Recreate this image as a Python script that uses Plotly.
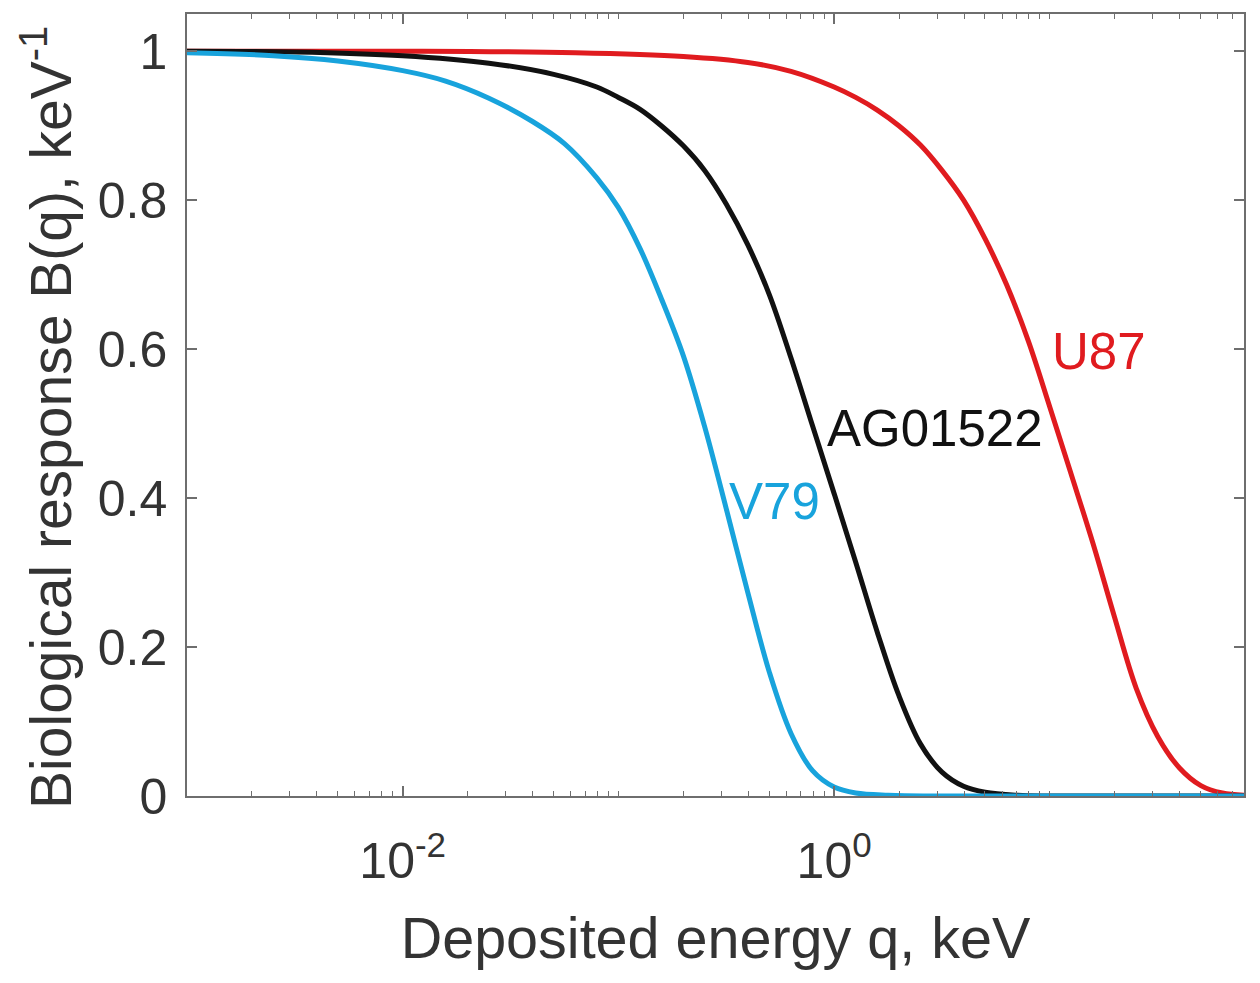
import numpy as np
import plotly.graph_objects as go

# Deposited energy q (keV) and biological response B(q)
q_v79 = [0.001, 0.00251, 0.00501, 0.01, 0.0158, 0.0251, 0.0398, 0.0562, 0.0794, 0.1,
         0.126, 0.158, 0.2, 0.251, 0.316, 0.398, 0.501, 0.631, 0.794, 1.0, 1.259, 1.778,
         3.16, 10.0, 79.43]
b_v79 = [0.998, 0.994, 0.987, 0.974, 0.960, 0.937, 0.906, 0.876, 0.830, 0.790,
         0.735, 0.668, 0.591, 0.496, 0.386, 0.273, 0.166, 0.084, 0.034, 0.012, 0.004, 0.001,
         0.0, 0.0, 0.0]

q_ag = [0.001, 0.00316, 0.01, 0.0251, 0.0501, 0.0794, 0.1, 0.126, 0.158, 0.2,
        0.251, 0.316, 0.398, 0.501, 0.631, 0.794, 1.0, 1.259, 1.585, 1.995,
        2.512, 3.162, 3.981, 5.012, 7.079, 10.0, 79.43]
b_ag = [1.0, 0.999, 0.994, 0.984, 0.969, 0.952, 0.938, 0.922, 0.900, 0.873,
        0.840, 0.795, 0.740, 0.673, 0.588, 0.497, 0.406, 0.314, 0.220, 0.135,
        0.070, 0.032, 0.013, 0.005, 0.001, 0.0, 0.0]

q_u87 = [0.001, 0.01, 0.0631, 0.2, 0.398, 0.631, 1.0, 1.259, 1.585, 1.995,
         2.512, 3.162, 3.981, 5.012, 6.310, 7.943, 10.0, 12.59, 15.85, 19.95,
         25.12, 31.62, 39.81, 50.12, 63.10, 79.43]
b_u87 = [1.0, 1.0, 0.998, 0.993, 0.985, 0.973, 0.952, 0.938, 0.921, 0.900,
         0.874, 0.840, 0.800, 0.748, 0.686, 0.611, 0.522, 0.431, 0.339, 0.240,
         0.145, 0.080, 0.038, 0.014, 0.004, 0.001]

x_tick_vals = [0.01, 1.0]
x_tick_text = ["10<sup>-2</sup>", "10<sup>0</sup>"]
x_minor_vals = [m * 10.0 ** e for e in range(-3, 2) for m in range(1, 10) if not (m == 1 and e in (-2, 0))]
y_tick_vals = [0, 0.2, 0.4, 0.6, 0.8, 1.0]
y_tick_text = ["0", "0.2", "0.4", "0.6", "0.8", "1"]

RED = "#e01b1f"
CYAN = "#18a3dc"
BLACK = "#111111"
FONT = "Liberation Sans, Arial, Helvetica, sans-serif"
AXIS_GREY = "#6e6e6e"
TEXT_GREY = "#333333"

fig = go.Figure()
for q, b, c, name in [(q_u87, b_u87, RED, "U87"),
                      (q_ag, b_ag, BLACK, "AG01522"),
                      (q_v79, b_v79, CYAN, "V79")]:
    fig.add_trace(go.Scatter(x=q, y=b, mode="lines", name=name,
                             line=dict(color=c, width=5, shape="spline", smoothing=1.0),
                             showlegend=False))

labels = [("V79", 0.527, 0.395, CYAN), ("AG01522", 2.95, 0.494, BLACK), ("U87", 16.9, 0.597, RED)]
for txt, qx, by, c in labels:
    fig.add_annotation(x=np.log10(qx), y=by, xref="x", yref="y", text=txt, showarrow=False,
                       font=dict(family=FONT, size=51, color=c), xanchor="center", yanchor="middle")

# y-axis title placed as a rotated annotation
fig.add_annotation(x=-0.1325, y=0.4847, xref="paper", yref="paper", textangle=-90,
                   text="Biological response B(q), keV<sup>-1</sup>", showarrow=False,
                   font=dict(family=FONT, size=57, color=TEXT_GREY), xanchor="center", yanchor="middle")

fig.update_layout(
    width=1260, height=983,
    margin=dict(l=187, r=16, t=14, b=187),
    paper_bgcolor="white", plot_bgcolor="white",
    font=dict(family=FONT, color=TEXT_GREY),
)
fig.update_xaxes(
    type="log", range=[-3, 1.9],
    tickmode="array", tickvals=x_tick_vals, ticktext=x_tick_text,
    ticks="inside", ticklen=10, tickwidth=1.5, tickcolor=AXIS_GREY,
    minor=dict(tickmode="array", tickvals=x_minor_vals, ticks="inside", ticklen=5,
               tickwidth=1.2, tickcolor=AXIS_GREY, showgrid=False),
    showline=True, linecolor=AXIS_GREY, linewidth=1.5, mirror="ticks",
    showgrid=False, zeroline=False,
    tickfont=dict(size=50, color=TEXT_GREY, family=FONT),
    ticklabelstandoff=20,
    title=dict(text="Deposited energy q, keV", font=dict(size=57.5, color=TEXT_GREY, family=FONT), standoff=30),
)
fig.update_yaxes(
    range=[0, 1.05],
    tickmode="array", tickvals=y_tick_vals, ticktext=y_tick_text,
    ticks="inside", ticklen=10, tickwidth=1.5, tickcolor=AXIS_GREY,
    showline=True, linecolor=AXIS_GREY, linewidth=1.5, mirror="ticks",
    showgrid=False, zeroline=False,
    tickfont=dict(size=50, color=TEXT_GREY, family=FONT),
    ticklabelstandoff=8,
)

fig.write_html("out.html")
